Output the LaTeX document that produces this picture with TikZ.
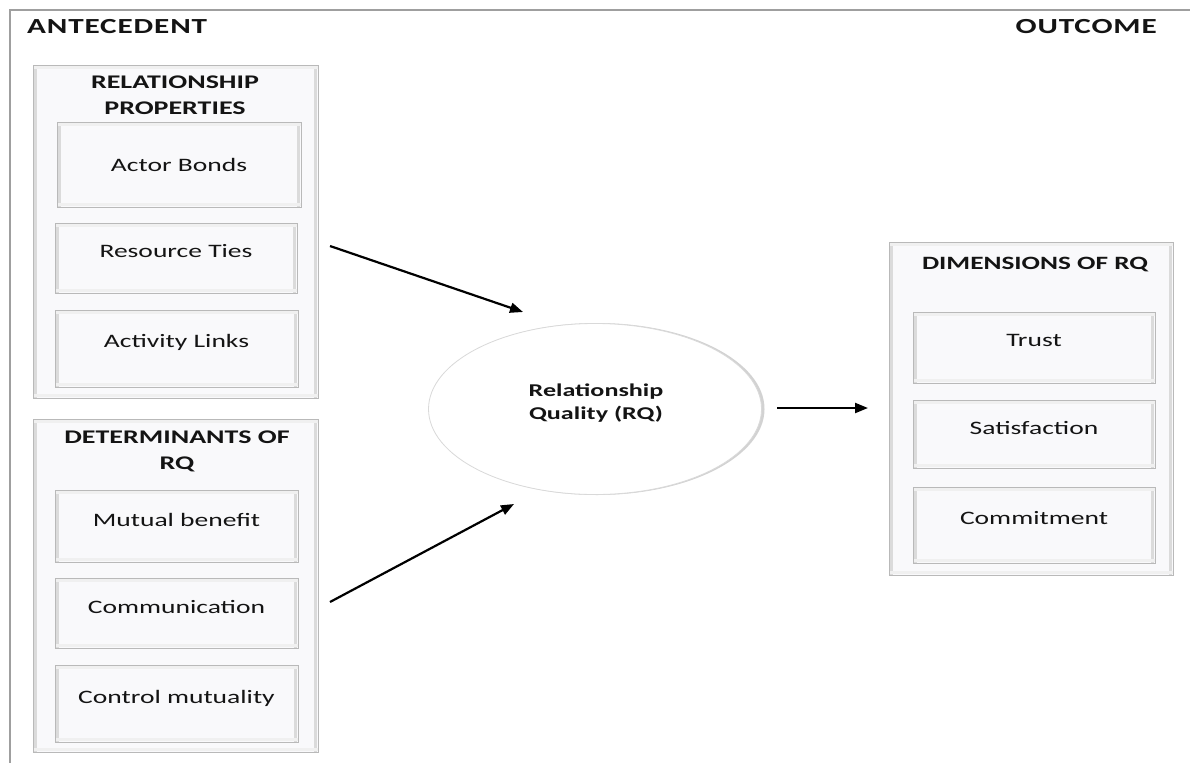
\documentclass[tikz,border=0pt]{standalone}
\usepackage{fontspec}
\setmainfont{Carlito}[FakeStretch=1.45]
\usetikzlibrary{arrows.meta,shapes.geometric}
\definecolor{boxfill}{RGB}{249,249,251}
\definecolor{txt}{RGB}{20,20,20}
\begin{document}
\begin{tikzpicture}[x=1pt,y=-1pt,
  bevel/.style={rectangle, draw=gray!55, line width=0.9pt, fill=boxfill, inner sep=0pt, outer sep=0pt,
    path picture={
      \draw[gray!28,line width=3pt] ([xshift=2.5pt]path picture bounding box.north west) -- ([xshift=2.5pt]path picture bounding box.south west);
      \draw[gray!28,line width=3pt] ([xshift=-2.5pt]path picture bounding box.north east) -- ([xshift=-2.5pt]path picture bounding box.south east);
      \draw[gray!12,line width=3pt] ([yshift=-2.5pt]path picture bounding box.north west) -- ([yshift=-2.5pt]path picture bounding box.north east);
      \draw[gray!12,line width=3pt] ([yshift=2.5pt]path picture bounding box.south west) -- ([yshift=2.5pt]path picture bounding box.south east);
    }},
  lbl/.style={inner sep=0pt, text=txt, font=\fontsize{19}{23}\selectfont},
  ttl/.style={inner sep=0pt, text=txt, align=center, font=\bfseries\fontsize{19.3}{25.5}\selectfont},
  head/.style={inner sep=0pt, text=txt, font=\bfseries\fontsize{21.5}{25}\selectfont\addfontfeature{LetterSpace=4}},
  arr/.style={line width=2.2pt, -{Triangle[length=13pt,width=10pt]}}
]
\fill[white] (0,0) rectangle (1190,763);
\useasboundingbox (0,0) rectangle (1190,763);

% outer frame
\draw[gray!75, line width=1.3pt] (1190,10) -- (10,10) -- (10,763);

\node[head, anchor=west] (ante) at (27,27) {ANTECEDENT};
\node[head, anchor=east] (outc) at (1157,27) {OUTCOME};

% group 1
\node[bevel, minimum width=285pt, minimum height=333pt] (g1) at (175.5,231.5) {};
\node[ttl] (g1t) at (175,95) {RELATIONSHIP\\PROPERTIES};
\node[bevel, minimum width=244pt, minimum height=85pt] (b1) at (179,164.5) {};
\node[lbl] (l1) at (179,165) {Actor Bonds};
\node[bevel, minimum width=242pt, minimum height=70pt] (b2) at (176,258) {};
\node[lbl] (l2) at (176,251) {Resource Ties};
\node[bevel, minimum width=243pt, minimum height=77pt] (b3) at (176.5,348.5) {};
\node[lbl] (l3) at (176.5,342) {Activity Links};

% group 2
\node[bevel, minimum width=285pt, minimum height=333pt] (g2) at (175.5,585.5) {};
\node[ttl] (g2t) at (177,451.5) {DETERMINANTS OF\\RQ};
\node[bevel, minimum width=243pt, minimum height=72pt] (b4) at (176.5,526) {};
\node[lbl] (l4) at (176.5,520) {Mutual benefit};
\node[bevel, minimum width=243pt, minimum height=70pt] (b5) at (176.5,613) {};
\node[lbl] (l5) at (176.5,607) {Communication};
\node[bevel, minimum width=243pt, minimum height=77pt] (b6) at (176.5,703.5) {};
\node[lbl] (l6) at (176.5,698) {Control mutuality};

% group 3
\node[bevel, minimum width=284pt, minimum height=333pt] (g3) at (1031,408.5) {};
\node[ttl, font=\bfseries\fontsize{18.8}{25}\selectfont] (g3t) at (1035,265) {DIMENSIONS OF RQ};
\node[bevel, minimum width=242pt, minimum height=71pt] (b7) at (1034,347.5) {};
\node[lbl] (l7) at (1034,340) {Trust};
\node[bevel, minimum width=242pt, minimum height=68pt] (b8) at (1034,434) {};
\node[lbl] (l8) at (1034,428) {Satisfaction};
\node[bevel, minimum width=242pt, minimum height=76pt] (b9) at (1034,525) {};
\node[lbl] (l9) at (1034,518) {Commitment};

% ellipse
\fill[gray!35] (597,409) ellipse [x radius=167.5pt, y radius=86pt];
\node[ellipse, draw=gray!30, line width=0.8pt, fill=white, minimum width=333pt, minimum height=171pt, inner sep=0pt] (rq) at (595,409) {};
\node[ttl, font=\bfseries\fontsize{18}{23}\selectfont] (rqt) at (596,403.5) {Relationship\\Quality (RQ)};

% arrows
\coordinate (a1s) at (330,246);
\coordinate (a1e) at (523,312);
\coordinate (a2s) at (330,602);
\coordinate (a2e) at (514,504);
\coordinate (a3s) at (777,408);
\coordinate (a3e) at (868,408);
\draw[arr] (a1s) -- (a1e);
\draw[arr] (a2s) -- (a2e);
\draw[arr] (a3s) -- (a3e);
\end{tikzpicture}
\end{document}
